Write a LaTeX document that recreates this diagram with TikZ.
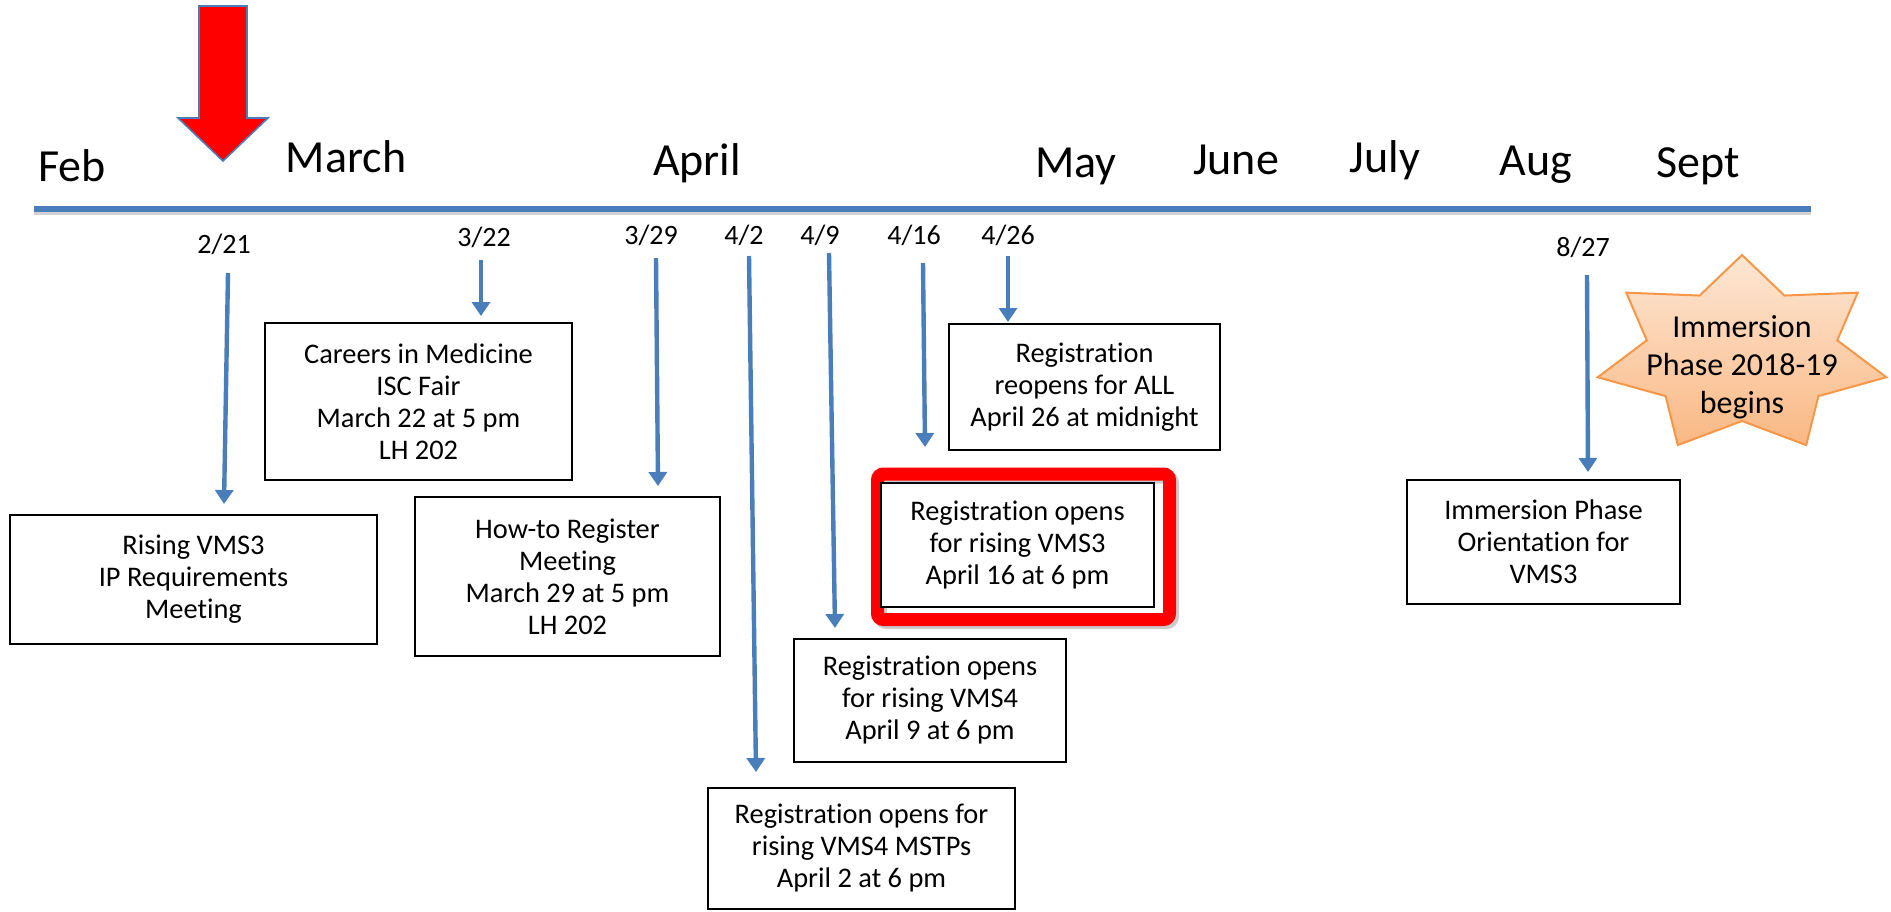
\documentclass[tikz,border=0pt]{standalone}
\usepackage{fontspec}
\setmainfont{Carlito}[Ligatures={NoCommon}]
\usetikzlibrary{arrows.meta}
\definecolor{tlblue}{RGB}{74,126,187}
\definecolor{starline}{RGB}{247,150,70}
\definecolor{startop}{RGB}{253,231,212}
\definecolor{starbot}{RGB}{250,184,132}
\begin{document}
\begin{tikzpicture}[x=0.5pt,y=-0.5pt,
  month/.style={font=\fontsize{23}{27}\selectfont, anchor=base, inner sep=0},
  datelbl/.style={font=\fontsize{14}{16}\selectfont, anchor=base, inner sep=0},
  evbox/.style={draw=black, line width=0.9pt, fill=white, align=center, inner sep=0,
    font=\fontsize{14.2}{16}\selectfont},
  evarrow/.style={draw=tlblue, line width=2.2pt, -{Triangle[width=9pt,length=7pt]}},
  shadowline/.style={draw=black!18, line width=2.6pt},
]
\useasboundingbox (0,0) rectangle (1891,911);

% timeline
\coordinate (tl0) at (34,209);
\coordinate (tl1) at (1811,209);
\draw[shadowline] ([yshift=-1.5pt]tl0) -- ([yshift=-1.5pt]tl1);
\draw[tlblue, line width=2.6pt] (tl0) -- (tl1);

% red pointer arrow
\draw[fill=red, draw=tlblue, line width=0.8pt, line join=miter]
  (199,6) -- (247,6) -- (247,118) -- (268,118) -- (223,161) -- (178,118) -- (199,118) -- cycle;

% months
\node[month] (feb) at (72,181) {Feb};
\node[month] (mar) at (346,172) {March};
\node[month] (apr) at (697,175) {April};
\node[month] (may) at (1076,177) {May};
\node[month] (jun) at (1236,174) {June};
\node[month] (jul) at (1385,172) {July};
\node[month] (aug) at (1536,175) {Aug};
\node[month] (sep) at (1698,177) {Sept};

% dates
\node[datelbl] (d1) at (224,253) {2/21};
\node[datelbl] (d2) at (484,246) {3/22};
\node[datelbl] (d3) at (651,244) {3/29};
\node[datelbl] (d4) at (744,244) {4/2};
\node[datelbl] (d5) at (820,244) {4/9};
\node[datelbl] (d6) at (914,244) {4/16};
\node[datelbl] (d7) at (1008,244) {4/26};
\node[datelbl] (d8) at (1583,256) {8/27};

% red highlight frame
\draw[black!20, line width=6.5pt, rounded corners=3pt] (880.5,477) rectangle (1172.5,622.5);
\draw[red, line width=6.5pt, rounded corners=3pt] (877.5,474) rectangle (1169.5,619.5);

% event boxes
\node[evbox, minimum width=183.5pt, minimum height=64.5pt] (b1) at (193.5,579.5)
  {Rising VMS3\\IP Requirements\\Meeting};
\node[evbox, minimum width=153.5pt, minimum height=78.5pt] (b2) at (418.5,401.5)
  {Careers in Medicine\\ISC Fair\\March 22 at 5 pm\\LH 202};
\node[evbox, minimum width=152.5pt, minimum height=79.5pt] (b3) at (567.5,576.5)
  {How-to Register\\Meeting\\March 29 at 5 pm\\LH 202};
\node[evbox, minimum width=153.5pt, minimum height=60.5pt] (b4) at (861.5,848.5)
  {Registration opens for\\rising VMS4 MSTPs\\April 2 at 6 pm};
\node[evbox, minimum width=136pt, minimum height=61.5pt] (b5) at (930,700.5)
  {Registration opens\\for rising VMS4\\April 9 at 6 pm};
\node[evbox, minimum width=136.5pt, minimum height=62pt] (b6) at (1017.5,545)
  {Registration opens\\for rising VMS3\\April 16 at 6 pm};
\node[evbox, minimum width=135.5pt, minimum height=63pt] (b7) at (1084.5,387)
  {Registration\\reopens for ALL\\April 26 at midnight};
\node[evbox, minimum width=136.5pt, minimum height=62pt] (b8) at (1543.5,542)
  {Immersion Phase\\Orientation for\\VMS3};

% arrow endpoints
\coordinate (a1s) at (228,273);  \coordinate (a1e) at (224,504);
\coordinate (a2s) at (481,260);  \coordinate (a2e) at (481,316);
\coordinate (a3s) at (656,258);  \coordinate (a3e) at (658,486);
\coordinate (a4s) at (749,256);  \coordinate (a4e) at (756,772);
\coordinate (a5s) at (829,253);  \coordinate (a5e) at (835,628);
\coordinate (a6s) at (923,263);  \coordinate (a6e) at (925,447);
\coordinate (a7s) at (1008,256); \coordinate (a7e) at (1008,322);
\coordinate (a8s) at (1587,275); \coordinate (a8e) at (1588,472);

\foreach \i in {1,...,8} {
  \draw[evarrow] (a\i s) -- (a\i e);
}

% star
\fill[top color=startop, bottom color=starbot, draw=starline, line width=1pt, line join=miter]
  ({1742+148*cos(90)},{355-100*sin(90)})
  \foreach \k in {1,...,13} {
    -- ({1742+148*(mod(\k,2)==0 ? 1 : 0.66)*cos(90+\k*360/14)},
        {355-100*(mod(\k,2)==0 ? 1 : 0.66)*sin(90+\k*360/14)})
  } -- cycle;
\node[align=center, inner sep=0, font=\fontsize{16}{19}\selectfont] (star) at (1742,367)
  {Immersion\\Phase 2018-19\\begins};
\end{tikzpicture}
\end{document}
